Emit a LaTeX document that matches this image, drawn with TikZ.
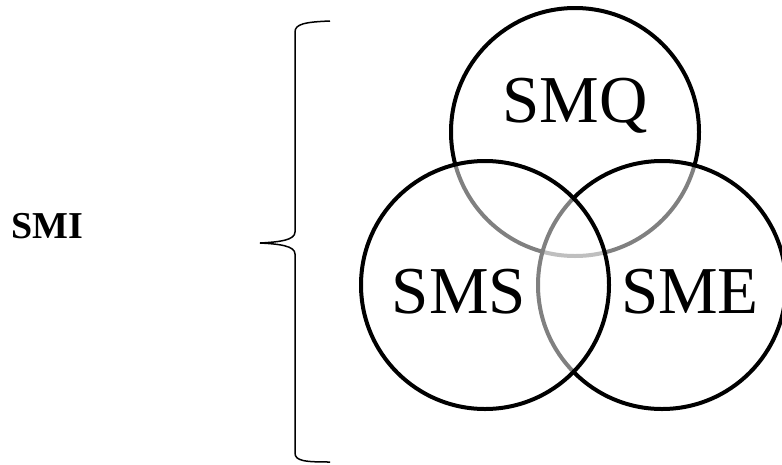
\documentclass[tikz,border=0pt]{standalone}
\usepackage{fontspec}
\setmainfont{Liberation Serif}
\tikzset{
	ring/.style={line width=4pt, draw=black},
	veil/.style={ring, fill=white, fill opacity=0.5},
	setlabel/.style={font=\fontsize{67}{67}\selectfont, inner sep=0pt},
	bracelabel/.style={font=\fontsize{38}{38}\selectfont\bfseries, inner sep=0pt}
}
\begin{document}
\begin{tikzpicture}[x=1pt, y=-1pt]
			%%%%% START %%%%%
			\useasboundingbox (0, 0) rectangle (782, 464);
			
			\coordinate (q) at (575, 132);
			\coordinate (s) at (485, 285);
			\coordinate (e) at (662, 285);
			
			\draw[ring] (q) circle (124);
			\draw[veil] (e) circle (124);
			\draw[veil] (s) circle (124);
			
			\node[setlabel] (smq) at (575, 106) {SMQ};
			\node[setlabel] (sms) at (459, 292) {SMS};
			\node[setlabel] (sme) at (690, 292) {SME};
			
			\node[bracelabel] (smi) at (47, 226) {SMI};
			
			\coordinate (btop) at (330, 21);
			\coordinate (btip) at (260, 243);
			\coordinate (bbot) at (330, 462);
			\draw[line width=1.5pt] (btop) .. controls (305, 22) and (295, 24) .. (295, 32)
				-- (295, 232) .. controls (295, 240) and (280, 242) .. (btip)
				.. controls (280, 244) and (295, 246) .. (295, 254)
				-- (295, 453) .. controls (295, 461) and (305, 462) .. (bbot);
			
			%%%%% END %%%%%
\end{tikzpicture}
\end{document}
